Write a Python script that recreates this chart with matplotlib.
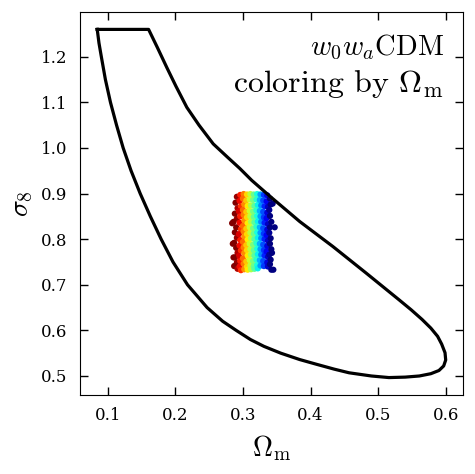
import numpy as np
import matplotlib
matplotlib.use("Agg")
import matplotlib.pyplot as plt

plt.rcParams['font.family'] = 'DejaVu Serif'
plt.rcParams['mathtext.fontset'] = 'cm'

# 1-sigma contour (Omega_m, sigma_8), closed path
contour_om = [0.0844, 0.1604, 0.1735, 0.1875, 0.2010, 0.217, 0.2350, 0.256, 0.2770,
              0.2954, 0.313, 0.340, 0.384, 0.433, 0.482, 0.531, 0.549, 0.565, 0.578,
              0.588, 0.594, 0.599, 0.600, 0.597, 0.590, 0.578, 0.561, 0.540, 0.516,
              0.490, 0.457, 0.435, 0.408, 0.384, 0.356, 0.331, 0.311, 0.290, 0.270,
              0.247, 0.2180, 0.1965, 0.1790, 0.1630, 0.1480, 0.1345, 0.1228, 0.1130,
              0.1040, 0.0965, 0.0905, 0.0870, 0.0844]
contour_s8 = [1.260, 1.260, 1.220, 1.176, 1.135, 1.089, 1.050, 1.009, 0.980,
              0.955, 0.929, 0.894, 0.8387, 0.784, 0.726, 0.667, 0.645, 0.624, 0.605,
              0.587, 0.570, 0.551, 0.535, 0.522, 0.512, 0.505, 0.500, 0.4975, 0.4965,
              0.500, 0.507, 0.515, 0.526, 0.536, 0.550, 0.565, 0.580, 0.600, 0.620,
              0.650, 0.700, 0.750, 0.800, 0.850, 0.900, 0.950, 1.000, 1.050,
              1.100, 1.150, 1.200, 1.230, 1.260]

# sample points, coloured by Omega_m
pts = [
    (0.291, 0.893), (0.289, 0.880), (0.292, 0.868), (0.288, 0.856), (0.291, 0.845), (0.286, 0.838),
    (0.290, 0.826), (0.288, 0.815), (0.291, 0.803), (0.287, 0.792), (0.290, 0.781), (0.292, 0.770),
    (0.288, 0.760), (0.291, 0.749), (0.287, 0.741), (0.292, 0.735),
    (0.296, 0.897), (0.295, 0.884), (0.297, 0.872), (0.294, 0.861), (0.296, 0.850), (0.295, 0.836),
    (0.297, 0.822), (0.294, 0.811), (0.296, 0.798), (0.295, 0.786), (0.297, 0.775), (0.294, 0.763),
    (0.296, 0.752), (0.295, 0.740), (0.297, 0.732),
    (0.301, 0.899), (0.300, 0.889), (0.302, 0.876), (0.300, 0.864), (0.301, 0.853), (0.302, 0.841),
    (0.300, 0.829), (0.301, 0.817), (0.302, 0.806), (0.300, 0.794), (0.301, 0.782), (0.302, 0.770),
    (0.300, 0.758), (0.301, 0.746), (0.302, 0.734),
    (0.306, 0.898), (0.305, 0.885), (0.307, 0.873), (0.305, 0.860), (0.306, 0.848), (0.307, 0.835),
    (0.305, 0.823), (0.306, 0.811), (0.307, 0.799), (0.305, 0.787), (0.306, 0.776), (0.307, 0.764),
    (0.305, 0.751), (0.306, 0.740), (0.307, 0.733),
    (0.311, 0.899), (0.310, 0.887), (0.312, 0.874), (0.310, 0.862), (0.311, 0.850), (0.312, 0.838),
    (0.310, 0.826), (0.311, 0.814), (0.312, 0.802), (0.310, 0.790), (0.311, 0.778), (0.312, 0.766),
    (0.310, 0.754), (0.311, 0.742), (0.312, 0.734),
    (0.316, 0.898), (0.315, 0.886), (0.317, 0.873), (0.315, 0.861), (0.316, 0.849), (0.317, 0.837),
    (0.315, 0.824), (0.316, 0.812), (0.317, 0.800), (0.315, 0.788), (0.316, 0.776), (0.317, 0.764),
    (0.315, 0.752), (0.316, 0.741), (0.317, 0.735),
    (0.321, 0.899), (0.320, 0.887), (0.322, 0.875), (0.320, 0.863), (0.321, 0.851), (0.322, 0.839),
    (0.320, 0.827), (0.321, 0.815), (0.322, 0.803), (0.320, 0.791), (0.321, 0.779), (0.322, 0.767),
    (0.320, 0.755), (0.321, 0.743), (0.322, 0.736),
    (0.326, 0.898), (0.325, 0.886), (0.327, 0.874), (0.325, 0.862), (0.326, 0.850), (0.327, 0.838),
    (0.325, 0.826), (0.326, 0.814), (0.327, 0.802), (0.325, 0.790), (0.326, 0.778), (0.327, 0.766),
    (0.325, 0.754), (0.326, 0.742),
    (0.331, 0.897), (0.330, 0.885), (0.332, 0.872), (0.330, 0.860), (0.331, 0.848), (0.332, 0.836),
    (0.330, 0.824), (0.331, 0.812), (0.332, 0.800), (0.330, 0.788), (0.331, 0.776), (0.332, 0.764),
    (0.330, 0.752), (0.331, 0.741),
    (0.336, 0.896), (0.335, 0.883), (0.337, 0.871), (0.336, 0.858), (0.335, 0.846), (0.337, 0.833),
    (0.336, 0.821), (0.335, 0.809), (0.337, 0.797), (0.336, 0.785), (0.335, 0.773), (0.337, 0.761),
    (0.336, 0.749), (0.337, 0.740),
    (0.340, 0.889), (0.341, 0.876), (0.339, 0.864), (0.340, 0.851), (0.342, 0.838), (0.340, 0.826),
    (0.339, 0.814), (0.341, 0.802), (0.340, 0.790), (0.342, 0.778), (0.339, 0.766), (0.341, 0.755),
    (0.340, 0.745), (0.342, 0.733),
    (0.344, 0.878), (0.347, 0.826), (0.345, 0.733), (0.343, 0.770), (0.285, 0.790), (0.284, 0.835),
    (0.286, 0.760),
]
sample_om = np.array([p[0] for p in pts])
sample_s8 = np.array([p[1] for p in pts])

fig = plt.figure(figsize=(4.75, 4.74), dpi=100)
ax = fig.add_axes([0.168, 0.1667, 0.807, 0.808])

ax.plot(contour_om, contour_s8, color='black', lw=2.3, solid_joinstyle='round')
ax.scatter(sample_om, sample_s8, c=sample_om, cmap='jet_r', vmin=0.29, vmax=0.34,
           s=20, linewidths=0)

ax.set_xticks([0.1, 0.2, 0.3, 0.4, 0.5, 0.6])
ax.set_yticks([0.5, 0.6, 0.7, 0.8, 0.9, 1.0, 1.1, 1.2])
ax.tick_params(direction='in', top=True, right=True, length=5.5, width=1, labelsize=12, pad=9)

ax.set_xlabel(r'$\Omega_{\rm m}$', fontsize=20, labelpad=6)
ax.set_ylabel(r'$\sigma_8$', fontsize=20)

ax.text(0.95, 0.888, r'$w_0w_a$CDM', transform=ax.transAxes, family='cmr10',
        ha='right', va='baseline', fontsize=20.5)
ax.text(0.95, 0.791, r'coloring by $\Omega_{\rm m}$', transform=ax.transAxes, family='cmr10',
        ha='right', va='baseline', fontsize=23)

fig.savefig('out.png', dpi=100)
